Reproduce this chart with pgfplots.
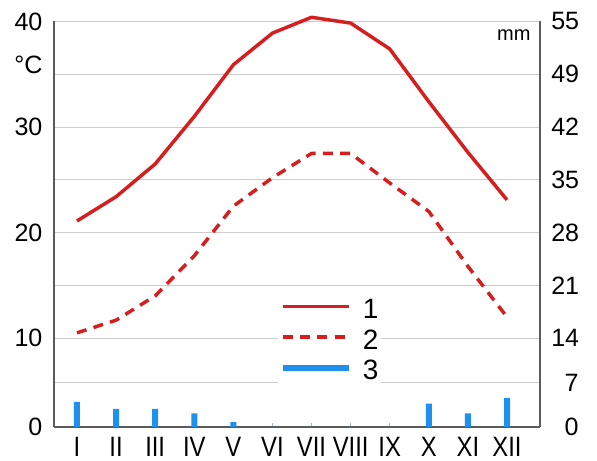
\documentclass[border=0pt]{standalone}
\usepackage{pgfplots}
\pgfplotsset{compat=1.18}
\usepackage{fontspec}
\setmainfont{Liberation Sans}
\definecolor{tred}{RGB}{214,30,30}
\definecolor{pblue}{RGB}{30,144,240}
\definecolor{axgray}{RGB}{90,90,90}
\definecolor{grgray}{RGB}{205,205,205}
\begin{document}
\begin{tikzpicture}
\path[use as bounding box] (-40.5pt,-25.5pt) rectangle (407.25pt,320.25pt);
\begin{axis}[
  at={(0pt,0pt)}, anchor=south west,
  scale only axis, width=364.5pt, height=304.125pt,
  xmin=0.412, xmax=12.844, ymin=0, ymax=40,
  y coord trafo/.code={\pgfmathparse{0.842*min(#1,10)+max(#1-10,0)+1.58}},
  clip=false,
  axis x line*=bottom, axis y line*=left,
  axis line style={-, draw=axgray, line width=1.4pt},
  xtick={1,2,3,4,5,6,7,8,9,10,11,12},
  xticklabels={I,II,III,IV,V,VI,VII,VIII,IX,X,XI,XII},
  xtick style={draw=gray!60, line width=0.6pt},
  tick align=inside, major tick length=3pt,
  xticklabel style={font=\fontsize{21}{21}\selectfont, inner sep=0pt, anchor=north, yshift=-7.5pt, xscale=0.85},
  ytick={0,5,10,15,20,25,30,35,40},
  yticklabels={0,,10,,20,,30,,40},
  ytick style={draw=none},
  yticklabel style={font=\fontsize{18.8}{18.8}\selectfont, inner sep=0pt, anchor=east, xshift=-8.5pt},
  ymajorgrids, grid style={draw=grgray, line width=0.75pt},
  legend style={at={(axis description cs:0.461,0.323)}, anchor=north west, draw=none, fill=white,
    inner sep=1pt, row sep=5pt, font=\fontsize{21}{21}\selectfont,
    nodes={inner sep=1pt}},
  legend image code/.code={\draw[#1] (0pt,0.25em) -- (50pt,0.25em); \path (57pt,0.25em);},
  legend cell align=left,
]
\addplot[tred, line width=2.6pt, line join=round] coordinates {
 (1,21.1) (2,23.4) (3,26.5) (4,31.0) (5,35.9) (6,38.9) (7,40.4) (8,39.85) (9,37.4) (10,32.4) (11,27.6) (12,23.1)};
\addlegendentry{1}
\addplot[tred, line width=2.6pt, line join=round, dash pattern=on 7.5pt off 5.5pt] coordinates {
 (1,10.5) (2,11.7) (3,14.0) (4,17.8) (5,22.5) (6,25.2) (7,27.5) (8,27.5) (9,24.7) (10,22.0) (11,16.8) (12,12.0)};
\addlegendentry{2}
\addlegendimage{pblue, line width=4.5pt}
\addlegendentry{3}
\node[anchor=east, font=\fontsize{18.8}{18.8}\selectfont, inner sep=0pt] at (axis description cs:-0.0233,0.8927) {°C};
\node[anchor=east, font=\fontsize{15}{15}\selectfont, inner sep=0pt] at (axis description cs:0.981,0.967) {mm};
\end{axis}
\begin{axis}[
  at={(0pt,0pt)}, anchor=south west,
  scale only axis, width=364.5pt, height=304.125pt,
  xmin=0.412, xmax=12.844, ymin=0, ymax=55,
  y coord trafo/.code={\pgfmathparse{0.842*min(#1*0.727273,10)+max(#1*0.727273-10,0)+1.58}},
  axis y line*=right, axis x line=none,
  axis line style={-, draw=axgray, line width=1.4pt},
  ytick={0,6.875,13.75,20.625,27.5,34.375,41.25,48.125,55},
  yticklabels={0,7,14,21,28,35,42,49,55},
  ytick style={draw=none},
  yticklabel style={font=\fontsize{18.8}{18.8}\selectfont, inner sep=0pt, anchor=west, xshift=8.25pt, text width=20.5pt, align=right},
]
\addplot[ybar, bar width=4.5pt, fill=pblue, draw=none] coordinates {
 (1,3.9) (2,2.8) (3,2.8) (4,2.1) (5,0.75) (6,0) (7,0) (8,0) (9,0) (10,3.6) (11,2.1) (12,4.5)};
\end{axis}
\end{tikzpicture}
\end{document}
